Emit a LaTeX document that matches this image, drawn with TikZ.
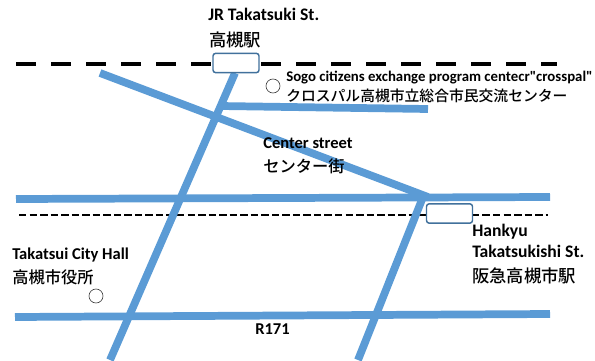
\documentclass[tikz,border=0pt]{standalone}
\usepackage{fontspec}
\newfontfamily\enfont{Carlito}
\newfontfamily\cjk[UprightFont=* Medium]{Noto Sans CJK JP}
\definecolor{road}{HTML}{5B9BD5}
\definecolor{boxline}{HTML}{41719C}
\tikzset{
  roadline/.style={draw=road,line width=5.8pt},
  railthick/.style={draw=black,line width=3.4pt,dash pattern=on 15pt off 11.25pt},
  railthin/.style={draw=black,line width=1.6pt,dash pattern=on 5.6pt off 2.3pt},
  stationbox/.style={draw=boxline,line width=1.1pt,fill=white,rounded corners=2pt,minimum width=34.5pt,minimum height=14.5pt,inner sep=0pt,outer sep=0pt},
  landmark/.style={circle,draw=black!75,line width=0.5pt,fill=white,minimum size=10.5pt,inner sep=0pt},
  en/.style={anchor=base west,inner sep=0pt,font=\enfont\bfseries\fontsize{12.4}{14}\selectfont},
  ens/.style={anchor=base west,inner sep=0pt,font=\enfont\bfseries\fontsize{11.1}{13}\selectfont},
  enl/.style={anchor=base west,inner sep=0pt,font=\enfont\bfseries\fontsize{13.2}{15}\selectfont},
  ja/.style={anchor=base west,inner sep=0pt,font=\cjk\fontsize{13}{15}\selectfont},
  jam/.style={anchor=base west,inner sep=0pt,font=\cjk\fontsize{12.2}{14}\selectfont},
  jab/.style={anchor=base west,inner sep=0pt,font=\cjk\fontsize{11.1}{13}\selectfont}
}
\begin{document}
\begin{tikzpicture}[x=0.75pt,y=-0.75pt]
\useasboundingbox (0,0) rectangle (595,360);
\coordinate (railAw) at (16,64);
\coordinate (railAe) at (557,64);
\coordinate (railBw) at (19,215);
\coordinate (railBe) at (548,215);
\coordinate (roadAn) at (235,73);
\coordinate (roadAs) at (110,360);
\coordinate (roadBn) at (423,197);
\coordinate (roadBs) at (358,360);
\coordinate (diagW) at (100,73);
\coordinate (diagE) at (428,197);
\coordinate (branchW) at (220,106);
\coordinate (branchE) at (428,109);
\coordinate (hAw) at (16,199);
\coordinate (hAe) at (550,197);
\coordinate (hBw) at (15,317);
\coordinate (hBe) at (550,314);
\draw[railthick] (railAw) -- (railAe);
\draw[railthin] (railBw) -- (railBe);
\draw[roadline] (roadAn) -- (roadAs);
\draw[roadline] (roadBn) -- (roadBs);
\draw[roadline] (diagW) -- (diagE);
\draw[roadline] (branchW) -- (branchE);
\draw[roadline] (hAw) -- (hAe);
\draw[roadline] (hBw) -- (hBe);
\node[stationbox] (jr) at (236,63) {};
\node[stationbox] (hankyu) at (449.5,213.5) {};
\node[landmark] (crosspal) at (273,86) {};
\node[landmark] (cityhall) at (96,296) {};
\node[enl] (t1) at (208,21) {JR Takatsuki St.};
\node[ja] (t2) at (209,46) {高槻駅};
\node[ens] (t3) at (286,81) {Sogo citizens exchange program centecr"crosspal"};
\node[jab] (t4) at (286,101) {クロスパル高槻市立総合市民交流センター};
\node[en] (t5) at (263,148) {Center street};
\node[jam] (t6) at (263,172) {センター街};
\node[enl] (t7) at (472,236) {Hankyu};
\node[enl] (t8) at (472,257) {Takatsukishi St.};
\node[ja] (t9) at (472,282) {阪急高槻市駅};
\node[en] (t10) at (12,259) {Takatsui City Hall};
\node[jam] (t11) at (12,283) {高槻市役所};
\node[en] (t12) at (255,334) {R171};
\end{tikzpicture}
\end{document}
